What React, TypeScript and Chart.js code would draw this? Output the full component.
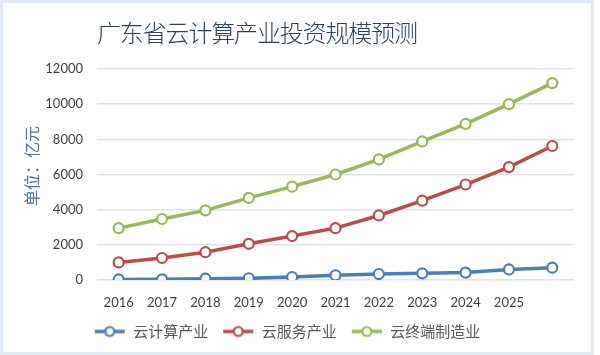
import React, { useEffect, useRef } from "react";
import { Chart, registerables } from "chart.js";

Chart.register(...registerables);

const titleText = "广东省云计算产业投资规模预测";
const yAxisLabel = "单位：亿元";
const categories = ["2016", "2017", "2018", "2019", "2020", "2021", "2022", "2023", "2024", "2025", ""];
const seriesNames = ["云计算产业", "云服务产业", "云终端制造业"];
const cloudComputing = [30, 40, 75, 100, 170, 270, 340, 380, 420, 600, 700];
const cloudServices = [1000, 1250, 1580, 2060, 2500, 2950, 3670, 4510, 5430, 6420, 7620];
const cloudTerminal = [2950, 3470, 3960, 4670, 5310, 6000, 6860, 7880, 8880, 10000, 11200];
const seriesColors = ["#4a7ebb", "#be4b48", "#98b954"];
const yMin = 0;
const yMax = 12000;
const yStep = 2000;

function makeLegendIcon(color: string): HTMLCanvasElement {
  const c = document.createElement("canvas");
  c.width = 32;
  c.height = 14;
  const ctx = c.getContext("2d")!;
  ctx.strokeStyle = color;
  ctx.lineWidth = 3.5;
  ctx.beginPath();
  ctx.moveTo(1, 7);
  ctx.lineTo(31, 7);
  ctx.stroke();
  ctx.beginPath();
  ctx.arc(16, 7, 4.5, 0, Math.PI * 2);
  ctx.fillStyle = "#ffffff";
  ctx.fill();
  ctx.lineWidth = 2.2;
  ctx.stroke();
  return c;
}

const decorPlugin = {
  id: "decor",
  beforeDraw(chart: any) {
    const ctx = chart.ctx;
    ctx.save();
    ctx.fillStyle = "#ffffff";
    ctx.fillRect(0, 0, chart.width, chart.height);
    ctx.strokeStyle = "#e2e9f4";
    ctx.lineWidth = 3;
    ctx.strokeRect(1.5, 1.5, 591, 352);
    ctx.restore();
  },
  afterDraw(chart: any) {
    const ctx = chart.ctx;
    ctx.save();
    ctx.fillStyle = "#2b3f5e";
    ctx.font = '300 24px "Noto Sans CJK SC"';
    ctx.textAlign = "left";
    ctx.textBaseline = "middle";
    const chars = Array.from(titleText);
    const left = 97;
    const right = 418;
    const w0 = ctx.measureText(titleText).width;
    const extra = (right - left - w0) / (chars.length - 1);
    let x = left;
    for (const ch of chars) {
      ctx.fillText(ch, x, 33);
      x += ctx.measureText(ch).width + extra;
    }
    ctx.translate(32, 166);
    ctx.rotate(-Math.PI / 2);
    ctx.textAlign = "center";
    ctx.fillStyle = "#4f6fa0";
    ctx.font = '400 16px "Noto Sans CJK SC"';
    ctx.fillText(yAxisLabel, 0, 0);
    ctx.restore();
  },
};

export default function App() {
  const ref = useRef<HTMLCanvasElement | null>(null);
  useEffect(() => {
    if (!ref.current) return;
    const icons = seriesColors.map(makeLegendIcon);
    const dataValues = [cloudComputing, cloudServices, cloudTerminal];
    const chart = new Chart(ref.current, {
      type: "line",
      data: {
        labels: categories,
        datasets: dataValues.map((d, i) => ({
          label: seriesNames[i],
          data: d,
          borderColor: seriesColors[i],
          backgroundColor: "#ffffff",
          borderWidth: 3.5,
          pointRadius: 5,
          pointBorderWidth: 2.2,
          pointBackgroundColor: "#ffffff",
          pointBorderColor: seriesColors[i],
          tension: 0,
        })),
      },
      options: {
        responsive: false,
        animation: false,
        layout: { padding: { top: 69, left: 0, right: 26, bottom: 6 } },
        scales: {
          x: {
            offset: true,
            grid: { display: false, drawTicks: false },
            border: { display: false },
            ticks: {
              color: "#404040",
              font: { family: "Lato", size: 13 },
              padding: 15,
              maxRotation: 0,
              autoSkip: false,
            },
            afterFit(scale: any) {
              scale.height = 30;
            },
          },
          y: {
            min: yMin,
            max: yMax,
            grid: { color: "#dde4ec", lineWidth: 1.5, drawTicks: false },
            border: { display: false },
            ticks: {
              stepSize: yStep,
              color: "#404040",
              font: { family: "Lato", size: 13 },
              padding: 14,
              callback: (v: any) => String(v),
            },
            afterFit(scale: any) {
              scale.width = 97;
            },
          },
        },
        plugins: {
          title: { display: false },
          tooltip: { enabled: false },
          legend: {
            position: "bottom",
            labels: {
              usePointStyle: true,
              pointStyleWidth: 32,
              padding: 14,
              color: "#595959",
              font: { family: '"Noto Sans CJK SC"', size: 15 },
              generateLabels(ch: any) {
                const items = Chart.defaults.plugins.legend.labels.generateLabels(ch);
                return items.map((it: any, i: number) => ({ ...it, pointStyle: icons[i] }));
              },
            },
          },
        },
      },
      plugins: [decorPlugin],
    });
    return () => chart.destroy();
  }, []);
  return (
    <div style={{ position: "fixed", left: 0, top: 0, width: 600, height: 355, background: "#fff" }}>
      <canvas ref={ref} width={600} height={355} />
    </div>
  );
}
